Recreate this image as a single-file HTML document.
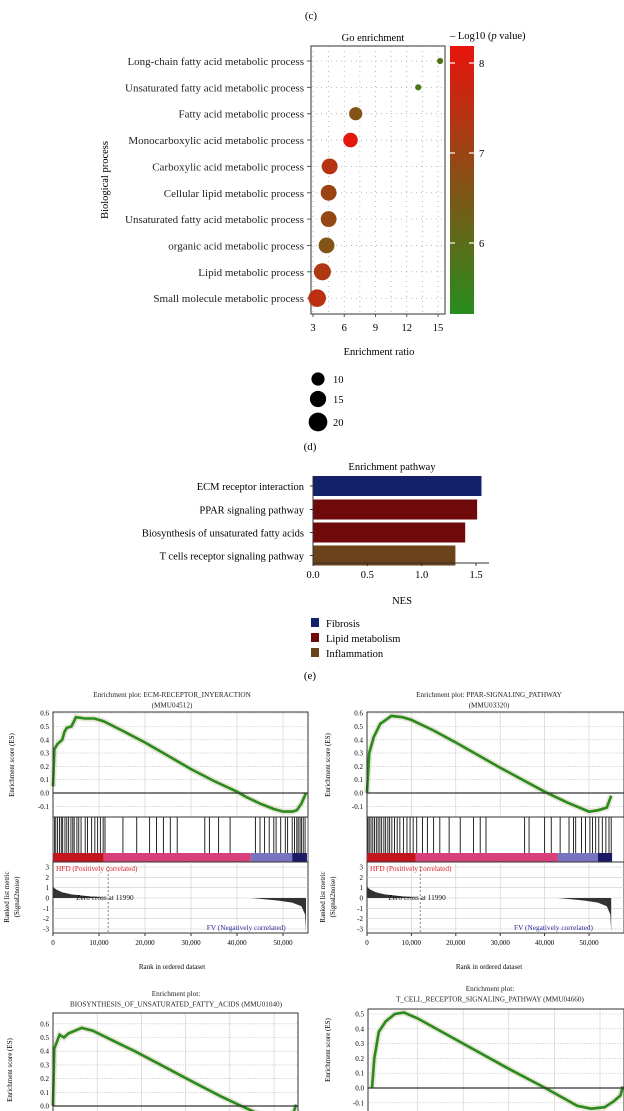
<!DOCTYPE html>
<html><head><meta charset="utf-8"><style>
html,body{margin:0;padding:0;background:#fff;}
svg{display:block;font-family:"Liberation Serif",serif;}
</style></head><body>
<svg id="fig" width="624" height="1111" viewBox="0 0 624 1111" xmlns="http://www.w3.org/2000/svg"></svg>
<script>
// ---------- Panel c data ----------
const goTerms=["Long-chain fatty acid metabolic process","Unsaturated fatty acid metabolic process","Fatty acid metabolic process","Monocarboxylic acid metabolic process","Carboxylic acid metabolic process","Cellular lipid metabolic process","Unsaturated fatty acid metabolic process","organic acid metabolic process","Lipid metabolic process","Small molecule metabolic process"];
const goRatio=[15.2,13.1,7.1,6.6,4.6,4.5,4.5,4.3,3.9,3.4];
const goCount=[2,2,9,11,13,13,13,13,15,16];
const goLogP=[5.8,5.7,6.6,8.1,7.4,7.0,6.9,6.6,7.3,7.5];
const goXTicks=[3,6,9,12,15];
const cbTicks=[6,7,8];
const sizeLegend=[10,15,20];
// ---------- Panel e data ----------
const pathways=["ECM receptor interaction","PPAR signaling pathway","Biosynthesis of unsaturated fatty acids","T cells receptor signaling pathway"];
const nesValues=[1.55,1.51,1.40,1.31];
const pathGroup=[0,1,1,2];
const groupNames=["Fibrosis","Lipid metabolism","Inflammation"];
const groupColors=["#13216a","#6e0a0a","#6b421a"];
const nesTicks=[0,0.5,1.0,1.5];
const nesTickLabels=["0.0","0.5","1.0","1.5"];
// ---------- GSEA data ----------
const rankTicks=[0,10000,20000,30000,40000,50000];
const rankTickLabels=["0","10,000","20,000","30,000","40,000","50,000"];
const esTicksA=[0.6,0.5,0.4,0.3,0.2,0.1,0.0,-0.1];
const esTicksD=[0.5,0.4,0.3,0.2,0.1,0.0,-0.1];
const metricTicks=[3,2,1,0,-1,-2,-3];
const curve1R=[0,300,1000,2000,2500,3000,4000,5000,7000,9000,11000,15000,20000,25000,30000,35000,40000,42000,45000,48000,50000,52000,53000,54000,55000];
const curve1E=[0.05,0.33,0.37,0.40,0.46,0.49,0.50,0.57,0.56,0.56,0.54,0.47,0.38,0.28,0.18,0.09,0.01,-0.03,-0.08,-0.12,-0.14,-0.14,-0.13,-0.08,0.0];
const curve2R=[0,500,1500,3000,5500,8000,10000,15000,20000,30000,40000,45000,50000,52000,54000,55000];
const curve2E=[0.0,0.30,0.42,0.52,0.58,0.57,0.55,0.47,0.38,0.19,0.01,-0.07,-0.14,-0.13,-0.11,-0.02];
const curve3R=[0,300,1500,2500,3500,6500,9000,14000,18500,25000,32000,38000,42600,46000,50000,53000,54500,55000];
const curve3E=[0.0,0.42,0.52,0.50,0.53,0.57,0.55,0.47,0.40,0.29,0.17,0.07,0.0,-0.05,-0.09,-0.08,-0.04,0.01];
const curve4R=[0,500,1500,3000,5000,7000,10000,20000,30000,38000,45000,48000,51000,53000,54500,55000];
const curve4E=[0.0,0.20,0.38,0.45,0.50,0.51,0.47,0.30,0.13,0.0,-0.12,-0.14,-0.13,-0.09,-0.05,0.01];
const hits1=[300,600,1000,1400,1800,2100,2600,3000,3400,3900,4300,4600,5200,5600,6100,7000,7500,8400,9100,9700,10300,10900,11300,15200,18200,21000,22500,24000,25500,27000,33000,34000,36000,38500,44000,45000,46000,47000,48000,48500,49500,50500,51000,52000,52500,53000,53300,53700,54000,54400,54800];
const hits2=[200,500,900,1300,1700,2100,2500,2900,3300,3800,4200,4700,5100,5600,6200,6800,7400,8200,9000,9700,10400,11200,12500,13600,15000,16400,18500,21000,24000,25500,26800,35500,36500,40000,41500,43500,45500,46500,47000,48300,49200,50200,50800,51500,52200,53000,53800,54500,55000];
const metricPosR=[0,200,800,2000,4000,7000,10000,11990];
const metricPosV=[1.3,1.0,0.8,0.55,0.35,0.2,0.08,0.0];
const metricNegR=[43000,46000,49000,52000,54000,54800,55000];
const metricNegV=[0.0,-0.12,-0.25,-0.45,-0.8,-1.6,-3.3];
const zeroCross=11990;

const NS="http://www.w3.org/2000/svg";
const svg=document.getElementById('fig');
function el(tag,attrs,parent,txt){const e=document.createElementNS(NS,tag);for(const k in attrs)e.setAttribute(k,attrs[k]);if(txt!==undefined)e.textContent=txt;(parent||svg).appendChild(e);return e;}

// ================= Panel c =================
const gc=el('g',{});


const cT=el('text',{x:311,y:19,'font-size':11,'text-anchor':'middle'},gc,'(c)');

const bx0=311,bx1=445,by0=46,by1=314;
const xr=v=>313+(v-3)*(438-313)/12;
const rowY=i=>61+i*26.35;
const rr=c=>Math.sqrt(c)*2.2;
function pColor(p){let t=(p-5.2)/3.0;t=Math.max(0,Math.min(1,t));const a=[40,140,30],b=[232,20,12];return `rgb(${Math.round(a[0]+(b[0]-a[0])*t)},${Math.round(a[1]+(b[1]-a[1])*t)},${Math.round(a[2]+(b[2]-a[2])*t)})`;}
for(let v=3;v<=15.01;v+=1.5){el('line',{x1:xr(v),x2:xr(v),y1:by0,y2:by1,stroke:'#aaa','stroke-width':0.8,'stroke-dasharray':'1,4'},gc);}
goTerms.forEach((t,i)=>{el('line',{x1:bx0,x2:bx1,y1:rowY(i),y2:rowY(i),stroke:'#aaa','stroke-width':0.8,'stroke-dasharray':'1,4'},gc);});
const cbox=el('rect',{x:bx0,y:by0,width:bx1-bx0,height:by1-by0,fill:'none',stroke:'#555','stroke-width':1.2},gc);

goTerms.forEach((t,i)=>{
  const lb=el('text',{x:304,y:rowY(i)+4,'font-size':11,'text-anchor':'end',fill:'#222'},gc,t);
  
  el('line',{x1:307,x2:bx0,y1:rowY(i),y2:rowY(i),stroke:'#555'},gc);
  const c=el('circle',{cx:xr(goRatio[i]),cy:rowY(i),r:rr(goCount[i]),fill:pColor(goLogP[i])},gc);
  
});
goXTicks.forEach(v=>{el('line',{x1:xr(v),x2:xr(v),y1:by1,y2:by1+3,stroke:'#555'},gc);
  const t=el('text',{x:xr(v),y:331,'font-size':10.5,'text-anchor':'middle'},gc,String(v));
  });
const gt=el('text',{x:373,y:41,'font-size':10.5,'text-anchor':'middle'},gc,'Go enrichment');

const xt=el('text',{x:379,y:355,'font-size':10.5,'text-anchor':'middle'},gc,'Enrichment ratio');

const yt=el('text',{x:0,y:0,'font-size':10.5,'text-anchor':'middle',transform:'translate(108,180) rotate(-90)'},gc,'Biological process');

const defs=el('defs',{});
const lg=el('linearGradient',{id:'cbg',x1:0,y1:1,x2:0,y2:0},defs);
for(let k=0;k<=10;k++){el('stop',{offset:k/10,'stop-color':pColor(5.2+3*k/10)},lg);}
const cb=el('rect',{x:450,y:by0,width:24,height:by1-by0,fill:'url(#cbg)'},gc);

const cby=p=>243-(p-6)*90;
cbTicks.forEach(v=>{el('line',{x1:450,x2:455,y1:cby(v),y2:cby(v),stroke:'#fff','stroke-width':1.2},gc);el('line',{x1:469,x2:474,y1:cby(v),y2:cby(v),stroke:'#fff','stroke-width':1.2},gc);
  const t=el('text',{x:479,y:cby(v)+4,'font-size':10.5},gc,String(v));});
const cbt=el('text',{x:450,y:39,'font-size':10.5},gc);

cbt.innerHTML='– Log10 (<tspan font-style="italic">p</tspan> value)';
const sl=[379,399,422];
sizeLegend.forEach((s,i)=>{const c=el('circle',{cx:318,cy:sl[i],r:rr(s)*0.95,fill:'#000'},gc);
  const t=el('text',{x:333,y:sl[i]+4,'font-size':10.5},gc,String(s));});
const dT=el('text',{x:310,y:450,'font-size':11,'text-anchor':'middle'},svg,'(d)');


// ================= Panel e =================
const ge=el('g',{});

const nx=v=>313+v*108.7;
const et=el('text',{x:392,y:470,'font-size':10.5,'text-anchor':'middle'},ge,'Enrichment pathway');

const barY=[486,509.5,532.5,555.5];
pathways.forEach((p,i)=>{
  const b=el('rect',{x:nx(0),y:barY[i]-10,width:nx(nesValues[i])-nx(0),height:20,fill:groupColors[pathGroup[i]]},ge);
  
  el('line',{x1:310,x2:313,y1:barY[i],y2:barY[i],stroke:'#333'},ge);
  const t=el('text',{x:304,y:barY[i]+4,'font-size':10.5,'text-anchor':'end'},ge,p);
  
});
el('line',{x1:313,x2:313,y1:476,y2:563,stroke:'#333'},ge);
el('line',{x1:313,x2:489,y1:563,y2:563,stroke:'#333'},ge);
nesTicks.forEach((v,i)=>{el('line',{x1:nx(v),x2:nx(v),y1:563,y2:566,stroke:'#333'},ge);
  const t=el('text',{x:nx(v),y:578,'font-size':10.5,'text-anchor':'middle'},ge,nesTickLabels[i]);});
const nt=el('text',{x:402,y:604,'font-size':10.5,'text-anchor':'middle'},ge,'NES');

groupNames.forEach((g,i)=>{const y=623+i*15;
  const r=el('rect',{x:311,y:y-5,width:8,height:9,fill:groupColors[i]},ge);
  const t=el('text',{x:326,y:y+4,'font-size':10.5},ge,g);});
const eT=el('text',{x:310,y:679,'font-size':11,'text-anchor':'middle'},svg,'(e)');


// ================= GSEA =================
function gsea(cfg){
  const g=el('g',{});
  
  const X=r=>cfg.x0+r*(cfg.x50-cfg.x0)/50000;
  const Y=v=>cfg.zeroY-v*cfg.pxu;
  cfg.title.forEach((t,i)=>{const e=el('text',{x:cfg.tx,y:cfg.ty+i*10.5,'font-size':7.2,'text-anchor':'middle',fill:'#222'},g,t);});
  const bot=cfg.esBottom;
  rankTicks.forEach(r=>{if(r>0)el('line',{x1:X(r),x2:X(r),y1:cfg.boxTop,y2:bot,stroke:'#ccc','stroke-width':0.6},g);});
  cfg.esTicks.forEach(v=>{el('line',{x1:cfg.bx0,x2:cfg.bx1,y1:Y(v),y2:Y(v),stroke:'#ccc','stroke-width':0.6,'stroke-dasharray':'2,1'},g);
    const t=el('text',{x:cfg.bx0-4,y:Y(v)+2.5,'font-size':7,'text-anchor':'end'},g,v.toFixed(1));});
  let d='';cfg.cr.forEach((r,i)=>{d+=(i?'L':'M')+X(r).toFixed(1)+','+Y(cfg.ce[i]).toFixed(1);});
  el('path',{d:d,fill:'none',stroke:'#d9d4c0','stroke-width':6,opacity:0.6},g);
  const cp=el('path',{d:d,fill:'none',stroke:'#2a8a1c','stroke-width':2.6},g);
  
  el('line',{x1:cfg.bx0,x2:cfg.bx1,y1:Y(0),y2:Y(0),stroke:'#333','stroke-width':1.3},g);
  el('rect',{x:cfg.bx0,y:cfg.boxTop,width:cfg.bx1-cfg.bx0,height:bot-cfg.boxTop,fill:'none',stroke:'#333','stroke-width':1},g);
  const yl=el('text',{x:0,y:0,'font-size':7,'text-anchor':'middle',transform:`translate(${cfg.ylx},${cfg.yly}) rotate(-90)`},g,'Enrichment score (ES)');
  
  if(!cfg.full) return;
  cfg.hits.forEach(r=>{const h=el('line',{x1:X(r),x2:X(r),y1:bot,y2:853,stroke:'#111','stroke-width':0.9},g);});
  el('rect',{x:cfg.bx0,y:bot,width:cfg.bx1-cfg.bx0,height:862-bot,fill:'none',stroke:'#333','stroke-width':0.8},g);
  const bands=[[0,11000,'#c4141e'],[11000,43000,'#d8407a'],[43000,52000,'#7a74c0'],[52000,55200,'#1a1a66']];
  bands.forEach(b=>{const r=el('rect',{x:X(b[0]),y:853,width:X(b[1])-X(b[0]),height:9,fill:b[2]},g);});
  const mY=v=>898-v*10.33;
  el('rect',{x:cfg.bx0,y:862,width:cfg.bx1-cfg.bx0,height:71,fill:'none',stroke:'#333','stroke-width':1},g);
  rankTicks.forEach(r=>{if(r>0)el('line',{x1:X(r),x2:X(r),y1:862,y2:933,stroke:'#ccc','stroke-width':0.6},g);});
  metricTicks.forEach(v=>{el('line',{x1:cfg.bx0,x2:cfg.bx1,y1:mY(v),y2:mY(v),stroke:'#ccc','stroke-width':0.6},g);
    const t=el('text',{x:cfg.bx0-4,y:mY(v)+2.5,'font-size':7,'text-anchor':'end'},g,String(v));});
  let pd='M'+X(metricPosR[0])+','+mY(0);metricPosR.forEach((r,i)=>{pd+='L'+X(r).toFixed(1)+','+mY(metricPosV[i]).toFixed(1);});pd+='Z';
  const pp=el('path',{d:pd,fill:'#333'},g);
  let nd='M'+X(metricNegR[0])+','+mY(0);metricNegR.forEach((r,i)=>{nd+='L'+X(r).toFixed(1)+','+mY(metricNegV[i]).toFixed(1);});nd+='L'+X(55000)+','+mY(0)+'Z';
  const np=el('path',{d:nd,fill:'#333'},g);
  el('line',{x1:X(zeroCross),x2:X(zeroCross),y1:866,y2:933,stroke:'#666','stroke-dasharray':'2,2','stroke-width':0.8},g);
  const t1=el('text',{x:cfg.bx0+3,y:871,'font-size':7.3,fill:'#e0202a'},g,'HFD (Positively correlated)');
  const t2=el('text',{x:X(zeroCross)-32,y:900,'font-size':7.3,fill:'#111'},g,'Zero cross at 11990');
  const t3=el('text',{x:X(42000),y:930,'font-size':7.3,fill:'#2a2a9a','text-anchor':'middle'},g,'FV (Negatively correlated)');
  rankTicks.forEach((r,i)=>{el('line',{x1:X(r),x2:X(r),y1:933,y2:936,stroke:'#333'},g);
    const t=el('text',{x:X(r),y:945,'font-size':7,'text-anchor':'middle'},g,rankTickLabels[i]);});
  const xl=el('text',{x:cfg.tx,y:969,'font-size':7,'text-anchor':'middle'},g,'Rank in ordered dataset');
  const ml=el('text',{x:0,y:0,'font-size':7,'text-anchor':'middle',transform:`translate(${cfg.ylx-5},897) rotate(-90)`},g,'Ranked list metric');
  const ml2=el('text',{x:0,y:0,'font-size':7,'text-anchor':'middle',transform:`translate(${cfg.ylx+5},897) rotate(-90)`},g,'(Signal2noise)');
}
gsea({name:'gsea-ecm-receptor',full:true,x0:53,x50:283,bx0:53,bx1:308,boxTop:712,esBottom:817,zeroY:793,pxu:133,esTicks:esTicksA,cr:curve1R,ce:curve1E,hits:hits1,title:['Enrichment plot: ECM-RECEPTOR_INYERACTION','(MMU04512)'],tx:172,ty:697,ylx:14,yly:765});
gsea({name:'gsea-ppar-signaling',full:true,x0:367,x50:589,bx0:367,bx1:624,boxTop:712,esBottom:817,zeroY:793,pxu:133,esTicks:esTicksA,cr:curve2R,ce:curve2E,hits:hits2,title:['Enrichment plot: PPAR-SIGNALING_PATHWAY','(MMU03320)'],tx:489,ty:697,ylx:330,yly:765});
gsea({name:'gsea-biosynthesis-unsaturated',full:false,x0:53,x50:274,bx0:53,bx1:298,boxTop:1013,esBottom:1120,zeroY:1106,pxu:137,esTicks:esTicksA,cr:curve3R,ce:curve3E,title:['Enrichment plot:','BIOSYNTHESIS_OF_UNSATURATED_FATTY_ACIDS (MMU01040)'],tx:176,ty:996,ylx:12,yly:1070});
gsea({name:'gsea-t-cell-receptor',full:false,x0:372,x50:600,bx0:368,bx1:624,boxTop:1009,esBottom:1120,zeroY:1088,pxu:148,esTicks:esTicksD,cr:curve4R,ce:curve4E,title:['Enrichment plot:','T_CELL_RECEPTOR_SIGNALING_PATHWAY (MMU04660)'],tx:490,ty:991,ylx:330,yly:1050});
</script>
</body></html>
